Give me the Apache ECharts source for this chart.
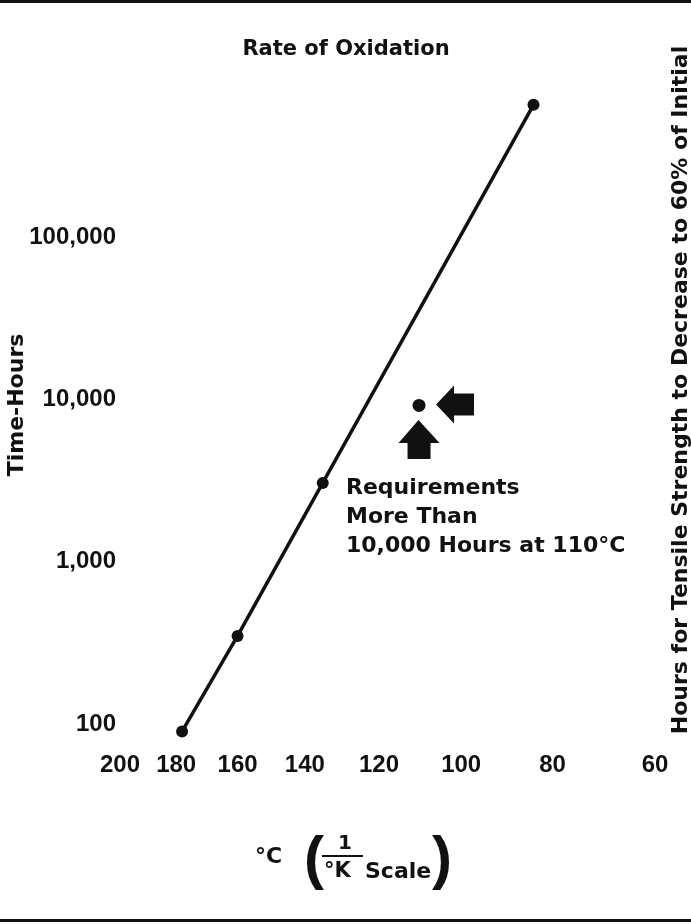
<!DOCTYPE html>
<html>
<head>
<meta charset="utf-8">
<script src="https://cdn.jsdelivr.net/npm/echarts@6/dist/echarts.min.js"></script>
<style>
  html, body { margin: 0; padding: 0; background: #fff; }
  #chart { width: 691px; height: 924px; }
</style>
</head>
<body>
<div id="chart"></div>
<script>
// oxidation line: temperature (°C) and hours
const lineTemps = [178, 160, 135, 84]
const lineHours = [90, 349, 3060, 655000]
// requirement point
const reqTemps = [110]
const reqHours = [9200]
// tick labels
const xTickTemps = [200, 180, 160, 140, 120, 100, 80, 60]
const yTickHours = [100, 1000, 10000, 100000]

// x axis is a 1/K scale
const invK = t => 1000 / (t + 273)

const ink = '#111'
const textFont = 'DejaVu Sans'
const tickFont = 'Liberation Sans'

const leftArrow = 'path://M0,19 L18,0 L18,8 L38,8 L38,30 L18,30 L18,38 Z'
const upArrow = 'path://M20,0 L41,23 L32,23 L32,39 L9,39 L9,23 L0,23 Z'

const chart = echarts.init(document.getElementById('chart'))

const txt = (text, x, y, size, extra, rotation) => ({
  type: 'text',
  x: x,
  y: y,
  rotation: rotation || 0,
  silent: true,
  style: Object.assign({
    text: text,
    fill: ink,
    fontFamily: textFont,
    fontWeight: 'bold',
    fontSize: size,
    textAlign: 'left',
    textVerticalAlign: 'middle',
    align: 'left',
    verticalAlign: 'middle'
  }, extra || {})
})

const centered = { textAlign: 'center', align: 'center' }

const option = {
  animation: false,
  backgroundColor: '#fff',
  title: {
    text: 'Rate of Oxidation',
    left: 346,
    top: 39,
    padding: 0,
    textAlign: 'center',
    textStyle: {
      color: ink,
      fontFamily: textFont,
      fontWeight: 'bold',
      fontSize: 21
    }
  },
  grid: {
    left: 120,
    right: 36,
    top: 75,
    bottom: 200
  },
  xAxis: {
    type: 'value',
    min: invK(200),
    max: invK(60),
    axisLine: { show: false },
    axisTick: { show: false },
    splitLine: { show: false },
    axisLabel: {
      customValues: xTickTemps.map(invK),
      formatter: v => String(Math.round(1000 / v - 273)),
      margin: 29,
      color: ink,
      fontFamily: tickFont,
      fontWeight: 'bold',
      fontSize: 24
    }
  },
  yAxis: {
    type: 'log',
    logBase: 10,
    min: 100,
    max: 1000000,
    axisLine: { show: false },
    axisTick: { show: false },
    splitLine: { show: false },
    axisLabel: {
      formatter: v => yTickHours.indexOf(Math.round(v)) >= 0 ? Math.round(v).toLocaleString('en-US') : '',
      margin: 4,
      color: ink,
      fontFamily: tickFont,
      fontWeight: 'bold',
      fontSize: 24
    }
  },
  series: [
    {
      type: 'line',
      data: lineTemps.map((t, i) => [invK(t), lineHours[i]]),
      symbol: 'circle',
      symbolSize: 12,
      clip: false,
      silent: true,
      itemStyle: { color: ink, opacity: 1 },
      lineStyle: { color: ink, width: 3.5 }
    },
    {
      type: 'scatter',
      data: reqTemps.map((t, i) => [invK(t), reqHours[i]]),
      symbolSize: 13,
      silent: true,
      itemStyle: { color: ink, opacity: 1 }
    },
    {
      // arrows pointing at the requirement point
      type: 'scatter',
      silent: true,
      itemStyle: { color: ink, opacity: 1 },
      data: [
        { value: [invK(reqTemps[0]), reqHours[0]], symbol: leftArrow, symbolSize: [38, 38], symbolOffset: [36, -1] },
        { value: [invK(reqTemps[0]), reqHours[0]], symbol: upArrow, symbolSize: [41, 39], symbolOffset: [0, 34] }
      ]
    }
  ],
  graphic: [
    { type: 'rect', silent: true, shape: { x: 0, y: 0, width: 691, height: 3 }, style: { fill: ink } },
    { type: 'rect', silent: true, shape: { x: 0, y: 919, width: 691, height: 3 }, style: { fill: ink } },
    txt('Time-Hours', 17, 405, 22, centered, Math.PI / 2),
    txt('Hours for Tensile Strength to Decrease to 60% of Initial', 681, 390, 22, centered, Math.PI / 2),
    txt('Requirements\nMore Than\n10,000 Hours at 110°C', 346, 517, 22, { lineHeight: 29 }),
    // x axis name: °C (1/°K Scale)
    txt('°C', 255, 857, 22),
    txt('(', 304, 861, 60, { fontFamily: tickFont }),
    txt('1', 338, 844, 20),
    { type: 'rect', silent: true, shape: { x: 322, y: 855, width: 41, height: 2 }, style: { fill: ink } },
    txt('°K', 324, 872, 21),
    txt('Scale', 365, 872, 22),
    txt(')', 432, 861, 60, { fontFamily: tickFont })
  ]
}

chart.setOption(option)
</script>
</body>
</html>
